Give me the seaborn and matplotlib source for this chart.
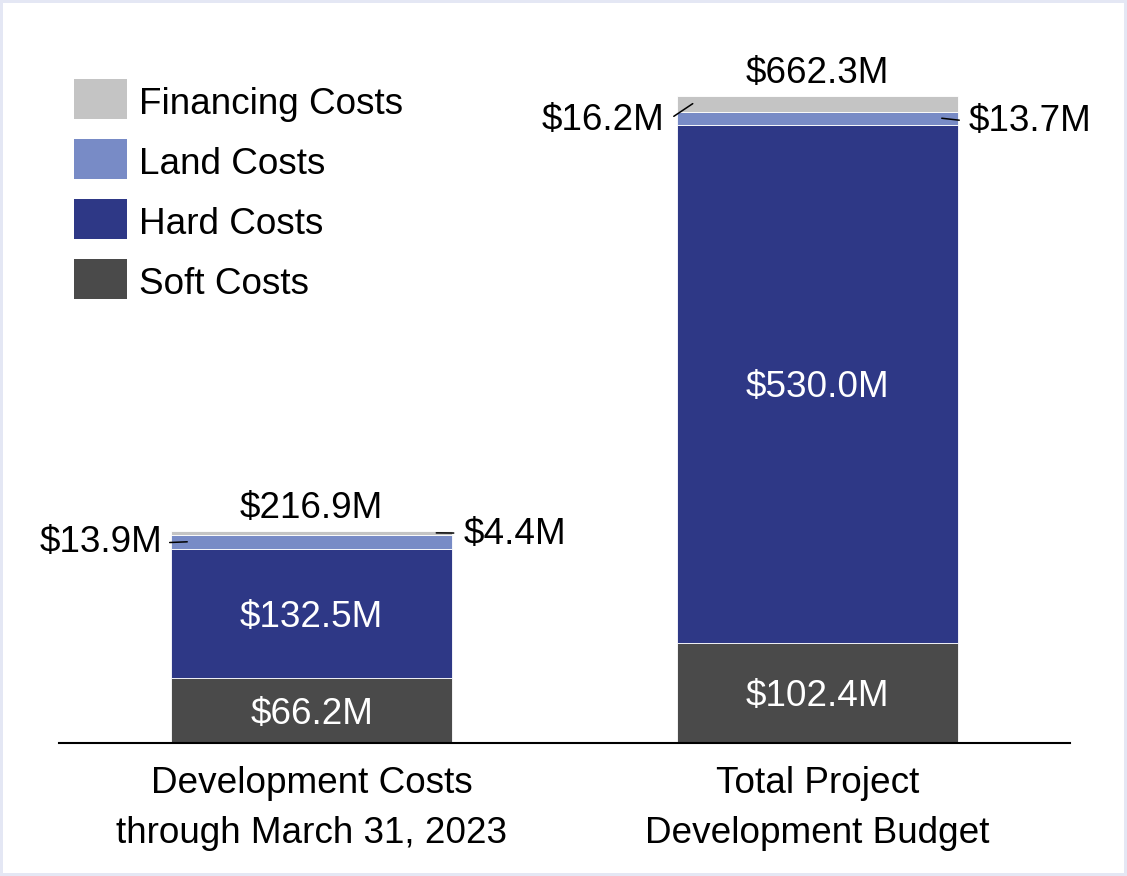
import matplotlib
matplotlib.use("Agg")
import matplotlib.pyplot as plt
from matplotlib.patches import Rectangle
import numpy as np
import seaborn as sns

# values in $M
categories = ["Development Costs\nthrough March 31, 2023", "Total Project\nDevelopment Budget"]
soft = [66.2, 102.4]
hard = [132.5, 530.0]
land = [13.9, 13.7]
financing = [4.4, 16.2]
totals = [216.9, 662.3]
legend_labels = ["Financing Costs", "Land Costs", "Hard Costs", "Soft Costs"]

colors = {"Soft Costs": "#4a4a4a", "Hard Costs": "#2e3886",
          "Land Costs": "#788bc6", "Financing Costs": "#c4c4c4"}

sns.set_style("white")
plt.rcParams["font.family"] = ["Liberation Sans", "DejaVu Sans"]
plt.rcParams["text.color"] = "black"
FS = 26.6

W, H = 1127, 876
fig = plt.figure(figsize=(W / 100, H / 100), dpi=100)
fig.patch.set_edgecolor("#e4e7f4")
fig.patch.set_linewidth(3)
ax = fig.add_axes([59 / W, 1 - 742.7 / H, 1011 / W, 742.7 / H])
ax.patch.set_visible(False)

bar_w = 0.556
layers = [("Soft Costs", soft), ("Hard Costs", hard),
          ("Land Costs", land), ("Financing Costs", financing)]
bottom = np.zeros(len(categories))
for name, vals in layers:
    sns.barplot(x=categories, y=vals, bottom=bottom, color=colors[name],
                saturation=1, width=bar_w, edgecolor="white", linewidth=0.6, ax=ax)
    bottom = bottom + np.array(vals)

ax.set_xlim(-0.5, 1.5)
ax.set_ylim(0, 760.3)

# white labels inside big segments
for i in range(len(categories)):
    ax.annotate(f"${soft[i]:.1f}M", xy=(i, soft[i] / 2), xytext=(0, -4),
                textcoords="offset pixels", color="white", fontsize=FS,
                ha="center", va="center")
    ax.annotate(f"${hard[i]:.1f}M", xy=(i, soft[i] + hard[i] / 2), xytext=(0, -4),
                textcoords="offset pixels", color="white", fontsize=FS,
                ha="center", va="center")
    ax.annotate(f"${totals[i]:.1f}M", xy=(i, totals[i]), xytext=(0, 13),
                textcoords="offset pixels", ha="center", va="baseline", fontsize=FS)

# callouts for the thin segments
px = 1 / 505
line_kw = dict(arrowstyle="-", color="black", lw=1.1, shrinkB=0)
# bar 1: land on left, financing on right
y = soft[0] + hard[0] + land[0] / 2
ax.annotate(f"${land[0]:.1f}M", xy=(-bar_w / 2 + 16 * px, y), xytext=(-25, -1),
            textcoords="offset pixels", ha="right", va="center", fontsize=FS,
            arrowprops=dict(**line_kw, shrinkA=3, relpos=(1, 0.5)))
y = soft[0] + hard[0] + land[0] + financing[0] / 2
ax.annotate(f"${financing[0]:.1f}M", xy=(bar_w / 2 - 16 * px, y), xytext=(27, -2),
            textcoords="offset pixels", ha="left", va="center", fontsize=FS,
            arrowprops=dict(**line_kw, shrinkA=4.5, relpos=(0, 0.55)))
# bar 2: financing on left, land on right
y = soft[1] + hard[1] + land[1] + financing[1] / 2
ax.annotate(f"${financing[1]:.1f}M", xy=(1 - bar_w / 2 + 16 * px, y), xytext=(-28, -17),
            textcoords="offset pixels", ha="right", va="center", fontsize=FS,
            arrowprops=dict(**line_kw, shrinkA=5, relpos=(1, 0.45)))
y = soft[1] + hard[1] + land[1] / 2
ax.annotate(f"${land[1]:.1f}M", xy=(1 + bar_w / 2 - 16 * px, y), xytext=(27, -3),
            textcoords="offset pixels", ha="left", va="center", fontsize=FS,
            arrowprops=dict(**line_kw, shrinkA=4.5, relpos=(0, 0.5)))

# axes styling
for s in ["top", "right", "left"]:
    ax.spines[s].set_visible(False)
ax.spines["bottom"].set_color("black")
ax.spines["bottom"].set_linewidth(1.5)
ax.set_yticks([])
ax.set_xlabel("")
ax.set_ylabel("")
ax.tick_params(axis="x", length=0, pad=17, labelsize=FS, colors="black")
for lab in ax.get_xticklabels():
    lab.set_linespacing(1.55)

# legend (top-left)
for k, name in enumerate(legend_labels):
    top = 79 + 60 * k
    fig.patches.append(Rectangle((74 / W, 1 - (top + 40) / H), 53 / W, 40 / H,
                                 transform=fig.transFigure, facecolor=colors[name],
                                 edgecolor="none"))
    fig.text(139 / W, 1 - (114 + 60 * k) / H, name, fontsize=FS, va="baseline", ha="left")

fig.savefig("out.png", dpi=100)
